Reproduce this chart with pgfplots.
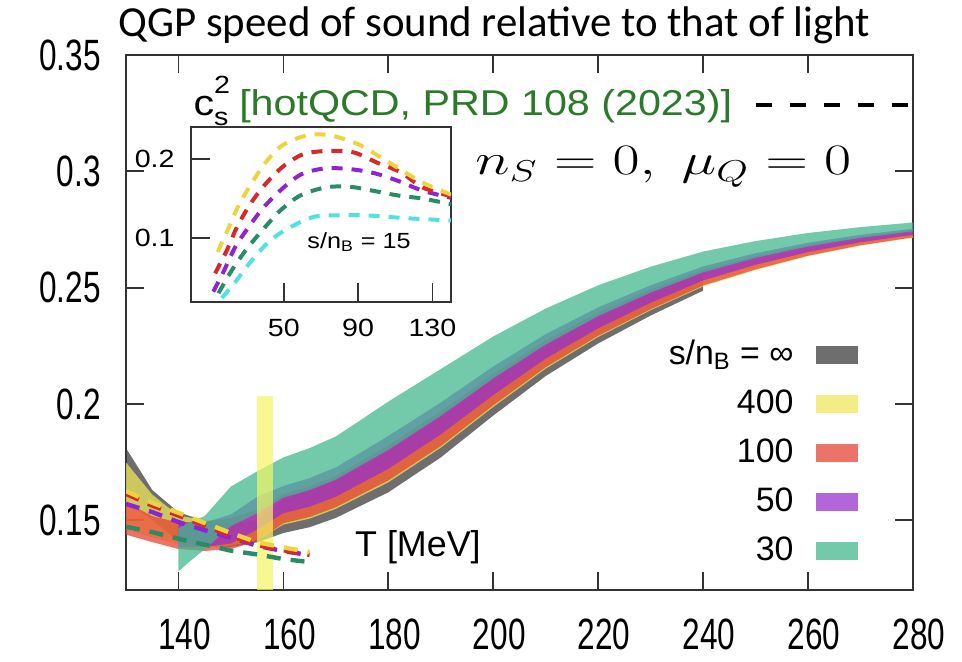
\documentclass[border=0pt]{standalone}
\usepackage{fontspec}
\setmainfont{Liberation Sans}
\newfontfamily\titlefont{Carlito}
\newfontfamily\tickfont[FakeStretch=0.72]{Liberation Sans}
\newfontfamily\keyfont[FakeStretch=1.15]{Liberation Sans}
\newfontfamily\insetfont[FakeStretch=1.15]{Liberation Sans}
\usepackage{graphicx}
\usepackage{pgfplots}
\pgfplotsset{compat=1.18}

% band colours (drawn semi-transparent, they mix where they overlap)
\definecolor{bandgray}{RGB}{60,60,60}
\definecolor{bandyellow}{RGB}{238,232,90}
\definecolor{bandred}{RGB}{230,66,50}
\definecolor{bandpurple}{RGB}{152,48,205}
\definecolor{bandteal}{RGB}{66,184,142}
\definecolor{keygreen}{RGB}{42,122,42}
\definecolor{baryellow}{RGB}{245,245,100}
% dashed hotQCD curves
\definecolor{dyellow}{RGB}{236,212,60}
\definecolor{dred}{RGB}{218,40,40}
\definecolor{dpurple}{RGB}{140,35,215}
\definecolor{dgreen}{RGB}{40,140,100}
\definecolor{dcyan}{RGB}{80,225,225}

\pgfplotsset{
  band/.style={draw=none, fill=#1, fill opacity=0.74},
  qcd/.style={#1, line width=2.2bp, dash pattern=on 7bp off 5bp, forget plot},
  iqcd/.style={#1, line width=2bp, dash pattern=on 5.5bp off 4.5bp, smooth},
}

\begin{document}
\begin{tikzpicture}
\useasboundingbox (0,0) rectangle (481bp,331bp);

% title
\node[anchor=base west, inner sep=0pt, font=\titlefont\fontsize{21.5}{24}\selectfont]
  at (59bp,312.5bp) {QGP speed of sound relative to that of light};

\begin{axis}[
  at={(63bp,36bp)}, anchor=south west,
  scale only axis, width=393.5bp, height=267.5bp,
  xmin=130, xmax=280, ymin=0.12, ymax=0.35,
  xtick={140,160,180,200,220,240,260,280},
  xticklabels={140,160,180,200,220,240,260,280},
  ytick={0.15,0.2,0.25,0.3,0.35},
  yticklabels={0.15,0.2,0.25,0.3,0.35},
  major tick length=9bp,
  tick style={line width=0.9bp, color=black!80},
  axis line style={line width=1.2bp, color=black!80},
  xticklabel style={font=\tickfont\fontsize{22}{22}\selectfont, inner sep=0pt,
    anchor=north, yshift=-14bp, xshift=3bp},
  yticklabel style={font=\tickfont\fontsize{22}{22}\selectfont, inner sep=0pt,
    anchor=east, xshift=-12.5bp},
  legend plot pos=right,
  legend cell align=right,
  legend image code/.code={\fill[#1] (0bp,-4.5bp) rectangle (21bp,4.5bp);},
  legend style={at={(0.930,0.469)}, anchor=north east, draw=none, fill=none,
    inner sep=0pt, row sep=8.5bp,
    font=\fontsize{17}{20}\selectfont,
    nodes={inner sep=0pt, text height=12.5bp, text depth=3.5bp},
    /tikz/every odd column/.append style={column sep=11bp}},
]

% s/n_B = infinity
\addplot[band=bandgray] coordinates {
 (130,0.158) (135,0.150) (140,0.141) (145,0.139) (150,0.1385) (155,0.1405)
 (160,0.1445) (165,0.147) (170,0.151) (180,0.162) (190,0.177) (200,0.195)
 (210,0.212) (220,0.226) (230,0.238) (240,0.2487)
 (240,0.2562) (230,0.2475) (220,0.2372) (210,0.2250) (200,0.2106) (190,0.1943)
 (180,0.1795) (170,0.1670) (165,0.1627) (160,0.1590) (155,0.150) (150,0.148)
 (145,0.1497) (140,0.1534) (135,0.163) (130,0.181)} --cycle;
\addlegendentry{s/n\textsubscript{B} = ∞}

% s/n_B = 400
\addplot[band=bandyellow] coordinates {
 (130,0.146) (135,0.1427) (140,0.1395) (145,0.1385) (150,0.139) (155,0.1415)
 (160,0.1481) (165,0.1507) (170,0.1549) (180,0.1663) (190,0.1812) (200,0.1987)
 (210,0.2152) (220,0.2288) (230,0.2403) (240,0.2505) (250,0.2575) (260,0.2635)
 (270,0.268) (280,0.2714)
 (280,0.2736) (270,0.2708) (260,0.2670) (250,0.2618) (240,0.2562) (230,0.2478)
 (220,0.2375) (210,0.2255) (200,0.2110) (190,0.1950) (180,0.1800) (170,0.1672)
 (165,0.1630) (160,0.1592) (155,0.1505) (150,0.1485) (145,0.150) (140,0.152)
 (135,0.161) (130,0.1748)} --cycle;
\addlegendentry{400}

% s/n_B = 100
\addplot[band=bandred] coordinates {
 (130,0.1438) (135,0.1406) (140,0.1376) (145,0.1368) (150,0.1376) (155,0.141)
 (160,0.1487) (165,0.1514) (170,0.1556) (180,0.1671) (190,0.1819) (200,0.1994)
 (210,0.2158) (220,0.2293) (230,0.2407) (240,0.2509) (250,0.2578) (260,0.2637)
 (270,0.2682) (280,0.2716)
 (280,0.2746) (270,0.2718) (260,0.2683) (250,0.2635) (240,0.2575) (230,0.2492)
 (220,0.2392) (210,0.2272) (200,0.2128) (190,0.1968) (180,0.1822) (170,0.1690)
 (165,0.1645) (160,0.1612) (155,0.1545) (150,0.151) (145,0.1495) (140,0.149)
 (135,0.1518) (130,0.1577)} --cycle;
\addlegendentry{100}

% s/n_B = 50
\addplot[band=bandpurple] coordinates {
 (140,0.1385) (145,0.1385) (150,0.140) (155,0.146) (160,0.153) (165,0.1558)
 (170,0.1601) (180,0.1721) (190,0.1869) (200,0.2038) (210,0.2195) (220,0.2325)
 (230,0.2435) (240,0.2531) (250,0.2598) (260,0.2653) (270,0.2695) (280,0.2727)
 (280,0.2753) (270,0.2727) (260,0.2693) (250,0.2648) (240,0.2591) (230,0.251)
 (220,0.2415) (210,0.23) (200,0.2161) (190,0.2006) (180,0.1862) (170,0.1727)
 (165,0.1681) (160,0.1647) (155,0.160) (150,0.1525) (145,0.149) (140,0.149)} --cycle;
\addlegendentry{50}

% s/n_B = 30
\addplot[band=bandteal] coordinates {
 (140,0.128) (142,0.132) (145,0.1375) (150,0.1475) (155,0.153) (160,0.1598)
 (165,0.163) (170,0.1675) (180,0.1803) (190,0.1949) (200,0.211) (210,0.2256)
 (220,0.2378) (230,0.2479) (240,0.2566) (250,0.2628) (260,0.2677) (270,0.2714)
 (280,0.2742)
 (280,0.278) (270,0.276) (260,0.2735) (250,0.270) (240,0.2655) (230,0.259)
 (220,0.251) (210,0.241) (200,0.229) (190,0.215) (180,0.201) (170,0.186)
 (165,0.181) (160,0.177) (155,0.171) (150,0.1645) (145,0.1518) (142,0.149)
 (140,0.1465)} --cycle;
\addlegendentry{30}

% pseudo-critical temperature window
\addplot[draw=none, fill=baryellow, fill opacity=0.7, forget plot] coordinates {
 (154.9,0.12) (158.1,0.12) (158.1,0.2035) (154.9,0.2035)} --cycle;

% hotQCD curves at low temperature
\addplot[qcd=dgreen] coordinates {
 (130,0.1472) (135,0.1449) (140,0.142) (145,0.1395) (150,0.1369) (155,0.1353)
 (160,0.1333) (165,0.132)};
\addplot[qcd=dpurple] coordinates {
 (130,0.157) (135,0.1535) (140,0.1492) (145,0.1457) (150,0.1425) (155,0.139)
 (160,0.1367) (165,0.1350)};
\addplot[qcd=dred] coordinates {
 (130,0.1613) (135,0.1563) (140,0.152) (145,0.1476) (150,0.1433) (155,0.1393)
 (160,0.1371) (165,0.1351)};
\addplot[qcd=dyellow] coordinates {
 (130,0.1625) (135,0.1575) (140,0.1532) (145,0.1488) (150,0.1445) (155,0.1405)
 (160,0.1383) (165,0.1363)};

% key for the dashed curves
\addplot[black, line width=2bp, dash pattern=on 8bp off 9bp, forget plot]
  coordinates {(250,0.3284) (280,0.3284)};
\node[anchor=base west, inner sep=0pt, font=\keyfont\fontsize{18}{20}\selectfont]
  at (axis cs:142.8,0.3241)
  {c\makebox[0pt][l]{\raisebox{0.62em}{\fontsize{12.5}{12}\selectfont 2}}\raisebox{-0.3em}{\fontsize{12.5}{12}\selectfont s}\hspace{0.3em}\textcolor{keygreen}{[hotQCD, PRD 108 (2023)]}};

\node[anchor=base west, inner sep=0pt, font=\fontsize{20.5}{24}\selectfont]
  at (axis cs:196.5,0.2985) {\scalebox{1.42}[1.05]{$n_S=0,\;\mu_Q=0$}};

\node[anchor=base west, inner sep=0pt, font=\fontsize{18}{20}\selectfont]
  at (axis cs:173.6,0.1345) {T [MeV]};
\end{axis}

% inset: c_s^2 from hotQCD down to low temperature
\begin{axis}[
  at={(95.5bp,180bp)}, anchor=south west,
  scale only axis, width=130bp, height=87.5bp,
  axis background/.style={fill=white},
  xmin=0, xmax=140, ymin=0.02, ymax=0.24,
  xtick={50,90,130}, ytick={0.1,0.2},
  xticklabels={50,90,130}, yticklabels={0.1,0.2},
  xtick pos=left, ytick pos=left,
  major tick length=9.5bp,
  tick style={line width=0.9bp, color=black!80},
  axis line style={line width=1.2bp, color=black!80},
  xticklabel style={font=\insetfont\fontsize{12.5}{12}\selectfont, inner sep=0pt,
    anchor=north, yshift=-8.5bp},
  yticklabel style={font=\insetfont\fontsize{12.5}{12}\selectfont, inner sep=0pt,
    anchor=east, xshift=-8bp},
]
\addplot[iqcd=dcyan] coordinates {
 (16.6,0.025) (23.8,0.045) (32.8,0.0725) (42.7,0.0975) (53.5,0.114) (66.1,0.127)
 (78.8,0.129) (93.2,0.129) (105.8,0.127) (118.4,0.125) (140,0.1225)};
\addplot[iqcd=dgreen] coordinates {
 (14.8,0.031) (22,0.06) (30.1,0.087) (39.1,0.112) (48.1,0.135) (58.9,0.154)
 (72.4,0.164) (85,0.165) (97.7,0.16) (111.2,0.154) (124.7,0.15) (140,0.143)};
\addplot[iqcd=dpurple] coordinates {
 (12,0.033) (17.5,0.058) (23.8,0.089) (31,0.114) (39.1,0.139) (49.9,0.164)
 (59.8,0.181) (72.4,0.188) (85.9,0.187) (98.6,0.182) (111.2,0.1725) (124.7,0.16)
 (140,0.151)};
\addplot[iqcd=dred] coordinates {
 (13,0.056) (19.3,0.085) (24.7,0.114) (31.9,0.143) (40,0.168) (49.9,0.191)
 (60.7,0.206) (74.2,0.21) (87.7,0.208) (100.4,0.195) (113,0.183) (124.7,0.164)
 (140,0.153)};
\addplot[iqcd=dyellow] coordinates {
 (14.4,0.083) (20,0.112) (25.6,0.141) (32.8,0.170) (40.9,0.1975) (49.9,0.218)
 (63.4,0.230) (76,0.229) (90.4,0.218) (102,0.202) (113.9,0.185) (124.7,0.170)
 (140,0.155)};
\node[anchor=base west, inner sep=0pt, font=\insetfont\fontsize{11}{12}\selectfont]
  at (axis cs:62.5,0.0875) {s/n\textsubscript{B} = 15};
\end{axis}
\end{tikzpicture}
\end{document}
